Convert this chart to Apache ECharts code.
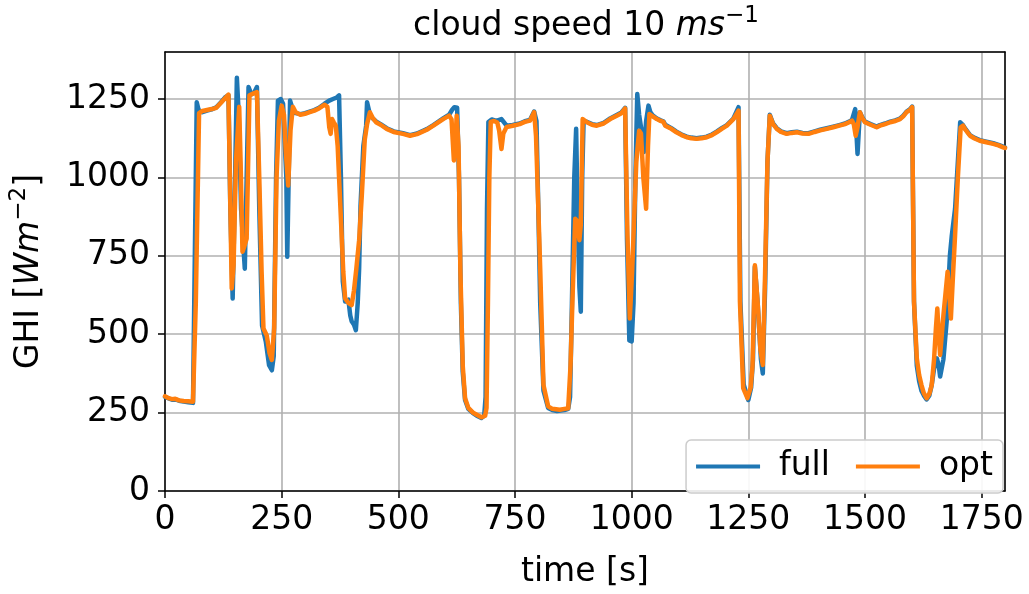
<!DOCTYPE html>
<html>
<head>
<meta charset="utf-8">
<script src="https://cdn.jsdelivr.net/npm/echarts@6/dist/echarts.min.js"></script>
<style>
html,body{margin:0;padding:0;background:#fff;}
#chart{width:1029px;height:594px;}
</style>
</head>
<body>
<div id="chart"></div>
<script>
// time [s], GHI [W m^-2]
const fullData = [
[0,300],[8,295],[15,291],[22,292],[30,288],[40,285],[50,283],[60,281],[64,285],[68,1240],
[72,1215],[80,1208],[90,1213],[100,1217],[110,1224],[120,1240],[130,1257],[136,1262],[140,900],[145,614],
[149,900],[154,1318],[158,1200],[163,900],[171,709],[175,1000],[179,1288],[185,1265],[191,1270],[197,1288],
[202,900],[208,528],[216,477],[223,401],[229,385],[233,430],[238,1000],[242,1245],[248,1250],[253,1235],
[257,1229],[260,1000],[262,747],[265,1000],[268,1245],[274,1215],[280,1205],[290,1202],[300,1205],[310,1210],
[320,1215],[330,1222],[342,1235],[352,1245],[360,1250],[368,1255],[373,1262],[377,1000],[381,668],[386,604],
[393,610],[397,560],[400,541],[405,530],[409,513],[413,600],[416,709],[419,911],[425,1100],[431,1165],
[433,1240],[440,1195],[453,1178],[462,1170],[475,1157],[490,1147],[510,1141],[525,1135],[540,1140],[561,1154],
[575,1167],[596,1188],[609,1200],[615,1215],[620,1224],[626,1222],[630,1000],[634,600],[638,380],[643,290],
[650,262],[660,248],[668,240],[678,233],[684,240],[687,300],[690,900],[693,1177],[700,1185],[710,1180],
[721,1186],[732,1165],[745,1167],[760,1172],[771,1179],[782,1183],[791,1210],[796,1180],[800,900],[804,600],
[811,320],[821,265],[830,258],[840,255],[856,258],[864,262],[868,300],[872,600],[877,1000],[881,1155],
[884,900],[888,650],[891,572],[894,1000],[897,1180],[905,1177],[915,1170],[925,1167],[940,1174],[954,1188],
[968,1199],[978,1207],[986,1222],[990,800],[995,480],[1000,477],[1004,600],[1008,1000],[1012,1266],[1016,1200],
[1021,1150],[1026,1081],[1031,1180],[1036,1229],[1040,1208],[1045,1198],[1054,1188],[1062,1182],[1068,1179],[1072,1168],
[1076,1172],[1085,1157],[1096,1146],[1107,1137],[1118,1130],[1128,1127],[1139,1125],[1150,1127],[1161,1130],[1172,1137],
[1182,1146],[1193,1157],[1204,1167],[1218,1188],[1229,1224],[1233,604],[1240,340],[1250,290],[1256,330],[1260,420],
[1264,715],[1270,600],[1277,420],[1281,375],[1286,650],[1291,1050],[1296,1200],[1303,1172],[1311,1157],[1320,1147],
[1332,1141],[1343,1144],[1354,1146],[1366,1142],[1379,1141],[1392,1147],[1404,1152],[1418,1157],[1432,1162],[1445,1167],
[1457,1172],[1466,1178],[1472,1183],[1479,1218],[1484,1075],[1489,1208],[1494,1192],[1500,1178],[1512,1170],[1525,1162],
[1532,1167],[1543,1172],[1554,1178],[1565,1182],[1575,1188],[1582,1197],[1589,1210],[1596,1217],[1601,1226],[1605,604],
[1611,400],[1616,350],[1621,320],[1626,305],[1632,292],[1638,305],[1643,338],[1648,390],[1654,423],[1658,400],
[1661,365],[1668,420],[1675,541],[1679,540],[1682,752],[1686,815],[1693,900],[1699,1050],[1704,1176],[1710,1167],
[1714,1157],[1725,1135],[1735,1126],[1746,1119],[1760,1114],[1775,1109],[1786,1104],[1796,1098],[1800,1096]
];
const optData = [
[0,302],[8,296],[15,293],[22,294],[30,289],[40,287],[50,286],[60,285],[66,600],[73,1205],
[80,1212],[90,1215],[100,1218],[110,1222],[120,1238],[130,1255],[136,1264],[139,1000],[143,646],[147,720],
[152,1050],[159,1225],[162,1050],[166,763],[170,780],[175,805],[181,1262],[190,1268],[197,1272],[202,1000],
[207,700],[211,518],[218,496],[224,440],[229,418],[234,520],[239,1000],[244,1180],[250,1229],[255,1200],
[259,1080],[264,974],[269,1150],[274,1225],[280,1208],[290,1200],[300,1203],[310,1208],[320,1213],[330,1220],
[342,1232],[348,1225],[352,1160],[355,1139],[358,1186],[362,1175],[366,1165],[370,1100],[376,900],[382,700],
[386,614],[393,600],[400,593],[405,640],[410,709],[416,800],[422,950],[428,1120],[433,1170],[439,1208],
[445,1190],[453,1175],[462,1168],[475,1155],[490,1145],[510,1139],[525,1133],[540,1138],[561,1152],[575,1165],
[596,1186],[609,1197],[614,1185],[619,1054],[622,1100],[625,1197],[629,1100],[633,700],[638,400],[643,296],
[650,265],[660,250],[668,243],[678,235],[686,240],[689,265],[692,600],[695,1000],[698,1177],[705,1180],
[712,1175],[716,1150],[721,1091],[725,1140],[732,1161],[745,1165],[760,1170],[771,1177],[782,1181],[791,1208],
[795,1133],[800,900],[804,709],[811,338],[821,270],[830,262],[846,259],[856,262],[864,264],[869,400],
[873,604],[879,868],[884,860],[888,800],[891,850],[895,1186],[905,1175],[915,1168],[925,1165],[940,1172],
[954,1186],[968,1197],[978,1205],[986,1220],[991,815],[996,550],[1001,700],[1010,1050],[1016,1149],[1020,1140],
[1025,1000],[1031,900],[1035,1100],[1038,1202],[1045,1195],[1054,1186],[1062,1180],[1068,1177],[1072,1165],[1076,1170],
[1085,1155],[1096,1144],[1107,1135],[1118,1128],[1128,1125],[1139,1123],[1150,1125],[1161,1128],[1172,1135],[1182,1144],
[1193,1155],[1204,1165],[1218,1186],[1229,1213],[1232,604],[1239,328],[1248,296],[1255,330],[1259,400],[1264,720],
[1270,600],[1276,450],[1281,402],[1286,700],[1291,1050],[1296,1197],[1303,1170],[1311,1155],[1320,1145],[1332,1139],
[1343,1142],[1354,1144],[1366,1140],[1379,1139],[1392,1145],[1404,1150],[1418,1155],[1432,1160],[1445,1165],[1457,1170],
[1466,1176],[1472,1181],[1476,1170],[1480,1133],[1484,1160],[1489,1208],[1494,1190],[1500,1176],[1512,1168],[1525,1160],
[1532,1165],[1543,1170],[1554,1176],[1565,1180],[1575,1186],[1582,1195],[1589,1208],[1596,1215],[1601,1224],[1605,604],
[1611,423],[1616,370],[1621,338],[1626,312],[1632,296],[1638,310],[1643,338],[1648,420],[1652,520],[1655,582],
[1658,500],[1661,434],[1668,560],[1677,699],[1681,620],[1684,550],[1689,700],[1693,815],[1699,1000],[1705,1160],
[1710,1165],[1714,1155],[1725,1133],[1735,1124],[1746,1117],[1760,1112],[1775,1107],[1786,1102],[1796,1096],[1800,1094]
];
const seriesNames = ['full', 'opt'];
const seriesColors = ['#1f77b4', '#ff7f0e'];
const xRange = [0, 1800];
const yRange = [0, 1400];
const tickStep = 250;

const FONT = 'DejaVu Sans';
const FS = 33;
const SUP = 23;
const chart = echarts.init(document.getElementById('chart'), null, {renderer: 'canvas'});
const plain = v => String(v);
const axisCommon = {
  axisLine: {show: true, onZero: false, lineStyle: {color: '#000', width: 1.5}},
  axisTick: {show: true, length: 7, lineStyle: {color: '#000', width: 1.5}},
  axisLabel: {color: '#000', fontSize: FS, fontFamily: FONT, showMaxLabel: false, formatter: plain},
  splitLine: {show: true, lineStyle: {color: '#b0b0b0', width: 1.6}}
};
const richText = {
  it: {fontFamily: FONT, fontSize: FS, fontStyle: 'italic', color: '#000', lineHeight: 42},
  sup: {fontFamily: FONT, fontSize: SUP, color: '#000', verticalAlign: 'top', lineHeight: 24}
};
chart.setOption({
  animation: false,
  backgroundColor: '#fff',
  title: {
    text: 'cloud speed 10 {it|ms}{sup|−1}',
    left: 581, top: 0, textAlign: 'center',
    textStyle: {
      fontFamily: FONT, fontSize: FS, fontWeight: 'normal', color: '#000', lineHeight: 42,
      rich: richText
    }
  },
  grid: {left: 165, right: 24, top: 52, bottom: 101, containLabel: false},
  legend: {
    data: seriesNames,
    right: 26, bottom: 101,
    orient: 'horizontal',
    icon: 'rect',
    itemWidth: 64, itemHeight: 4,
    itemGap: 26,
    padding: [10, 10, 10, 10],
    backgroundColor: 'rgba(255,255,255,0.9)',
    borderColor: '#cccccc', borderWidth: 1.5, borderRadius: 5,
    textStyle: {fontFamily: FONT, fontSize: FS, color: '#000', padding: [0, 0, 0, 14]}
  },
  xAxis: [
    Object.assign({}, axisCommon, {
      type: 'value', min: xRange[0], max: xRange[1], interval: tickStep,
      position: 'bottom',
      axisLabel: Object.assign({}, axisCommon.axisLabel, {margin: 13}),
      name: 'time [s]', nameLocation: 'middle', nameGap: 65,
      nameTextStyle: {fontFamily: FONT, fontSize: FS, color: '#000'}
    }),
    {
      type: 'value', min: xRange[0], max: xRange[1], position: 'top',
      axisLine: {show: true, onZero: false, lineStyle: {color: '#000', width: 1.5}},
      axisTick: {show: false}, axisLabel: {show: false}, splitLine: {show: false}
    }
  ],
  yAxis: [
    Object.assign({}, axisCommon, {
      type: 'value', min: yRange[0], max: yRange[1], interval: tickStep,
      position: 'left',
      axisLabel: Object.assign({}, axisCommon.axisLabel, {margin: 15}),
      name: 'GHI [{it|Wm}{sup|−2}]', nameLocation: 'middle', nameGap: 115, nameRotate: 90,
      nameTextStyle: {
        fontFamily: FONT, fontSize: FS, color: '#000', lineHeight: 42,
        rich: richText
      }
    }),
    {
      type: 'value', min: yRange[0], max: yRange[1], position: 'right',
      axisLine: {show: true, onZero: false, lineStyle: {color: '#000', width: 1.5}},
      axisTick: {show: false}, axisLabel: {show: false}, splitLine: {show: false}
    }
  ],
  series: [
    {name: seriesNames[0], type: 'line', data: fullData, showSymbol: false, symbol: 'none',
     color: seriesColors[0], lineStyle: {width: 4.5, color: seriesColors[0], cap: 'round', join: 'round'}, z: 3},
    {name: seriesNames[1], type: 'line', data: optData, showSymbol: false, symbol: 'none',
     color: seriesColors[1], lineStyle: {width: 4.5, color: seriesColors[1], cap: 'round', join: 'round'}, z: 4}
  ]
});
</script>
</body>
</html>
